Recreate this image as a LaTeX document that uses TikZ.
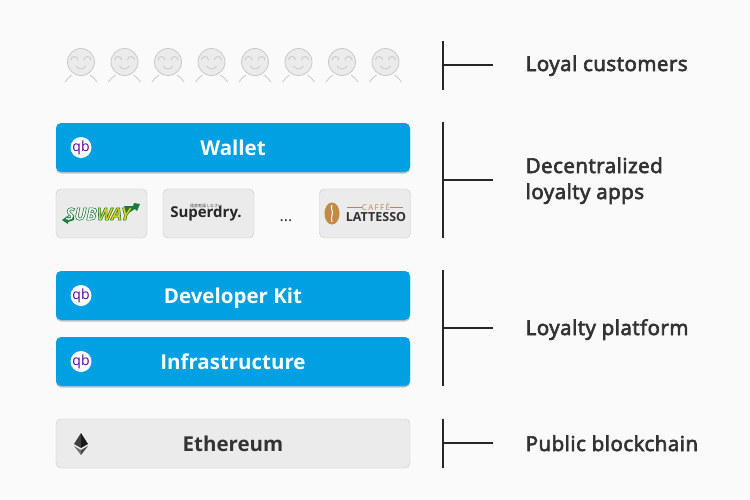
\documentclass[tikz,border=0pt]{standalone}
\usepackage{fontspec}
\setmainfont{Open Sans}
\newfontfamily\semibold[FakeBold=3.2,LetterSpace=2.5]{Open Sans}
\newfontfamily\cjk{Noto Sans CJK JP}
\usetikzlibrary{shadows}
\definecolor{pagegray}{HTML}{FAFAFA}
\definecolor{qbblue}{HTML}{00A0E3}
\definecolor{boxgray}{HTML}{EBEBEB}
\definecolor{boxline}{HTML}{C8C8C8}
\definecolor{facegray}{HTML}{C8C8C8}
\definecolor{inkgray}{HTML}{333333}
\definecolor{subgreen}{HTML}{1E7A3C}
\definecolor{subyellow}{HTML}{F2D21B}
\definecolor{cafebrown}{HTML}{C08B45}
\def\boxw{354pt}
\def\boxh{49pt}
\def\outlined{\special{pdf:code 2 Tr 0.6 w 0.12 0.48 0.24 RG}}
\def\plainfill{\special{pdf:code 0 Tr 0 w}}

\begin{document}
\begin{tikzpicture}[x=1pt,y=-1pt]
    \tikzstyle{bluebox}=[rectangle,rounded corners=5pt,fill=qbblue,text=white,minimum width=\boxw,minimum height=\boxh,inner sep=0pt,text height=15pt,text depth=0pt,font=\fontsize{20.5}{24}\selectfont\bfseries,drop shadow={shadow xshift=0pt,shadow yshift=-1.5pt,opacity=0.22,fill=black}]
    \tikzstyle{graybox}=[rectangle,rounded corners=5pt,draw=boxline,fill=boxgray,text=inkgray,minimum width=\boxw,minimum height=\boxh,inner sep=0pt,text height=15pt,text depth=0pt,font=\fontsize{20.5}{24}\selectfont\bfseries]
    \tikzstyle{logobox}=[graybox,minimum width=91pt]
    \tikzstyle{qblogo}=[circle,fill=white,minimum size=21pt,inner sep=0pt,text height=7.5pt,text depth=0pt,text=violet!70!blue,font=\fontsize{14}{14}\selectfont]
    \tikzstyle{sidelabel}=[anchor=base west,align=left,text=inkgray,inner sep=0pt,font=\fontsize{20.5}{26}\semibold]
    \tikzstyle{bracket}=[draw=black!85,line width=1.1pt]
    \tikzset{customer/.pic={
        \draw[facegray,fill=boxgray,line width=0.8pt] (0,0) circle (13.5);
        \draw[facegray,line width=0.8pt] (-10,-2) arc (180:360:3.5);
        \draw[facegray,line width=0.8pt] (3,-2) arc (180:360:3.5);
        \draw[facegray,line width=0.8pt] (-5,4) .. controls (-2,8) and (2,8) .. (5,4);
        \draw[facegray,line width=0.8pt] (-9,13) .. controls (-12,15) and (-14,17) .. (-16,20);
        \draw[facegray,line width=0.8pt] (9,13) .. controls (12,15) and (14,17) .. (16,20);
    }}

    \useasboundingbox[fill=pagegray] (0,0) rectangle (750,499);

    % Draw the customers
    \foreach \i in {0,...,7}
        \pic at ({81+43.5*\i},62) {customer};

    % Draw the blue boxes with their logos
    \node[bluebox] (wallet) at (233,147.5) {Wallet};
    \node[bluebox] (kit) at (233,295.5) {Developer Kit};
    \node[bluebox] (infra) at (233,361.5) {Infrastructure};
    \foreach \name in {wallet,kit,infra}
        \node[qblogo] (qb-\name) at ([xshift=-152pt]\name.center) {qb};

    % Draw the app logos
    \node[logobox] (subway) at (101.5,213.5) {};
    \node[logobox] (superdry) at (208.5,213.5) {};
    \node[logobox] (lattesso) at (365,213.5) {};
    \fill[subgreen] (74,215) -- (68,218) -- (69,215) -- (62,220) -- (68,224) -- (68,222) -- (74,220) -- cycle;
    \fill[subgreen] (124,206) -- (133,206) -- (134,203) -- (140,204) -- (137,211) -- (135,209) -- (127,214) -- cycle;
    \node[font=\fontsize{17}{17}\selectfont\bfseries\itshape,inner sep=0pt] (subway-text) at (98,214) {\textcolor{white}{\outlined SUB}\textcolor{subyellow}{\outlined WAY\plainfill}};
    \node[text=black!85,font=\fontsize{15}{15}\selectfont\bfseries,inner sep=0pt] (superdry-text) at (206,214) {Superdry.};
    \node[text=black!70,font=\fontsize{4}{4}\cjk,inner sep=0pt] (superdry-small) at (206,206) {極度乾燥しなさい};
    \fill[cafebrown] (332,213.5) ellipse (7.5 and 11);
    \draw[white,line width=1pt] (332,205) .. controls (330,209) and (334,212) .. (332,215) .. controls (331,217) and (332,220) .. (332,222);
    \node[text=cafebrown!80!gray,font=\fontsize{8}{8}\selectfont,inner sep=0pt] (caffe-text) at (376,207) {C\,A\,F\,F\,È};
    \draw[cafebrown!80!gray,line width=0.4pt] (347,207) -- (caffe-text.west);
    \draw[cafebrown!80!gray,line width=0.4pt] (caffe-text.east) -- (403,207);
    \node[text=inkgray,font=\fontsize{12.5}{13}\selectfont\bfseries,inner sep=0pt] (lattesso-text) at (376,217) {LATTESSO};
    \node[text=inkgray,font=\fontsize{16}{16}\selectfont,inner sep=0pt] (dots) at (286,221) {...};

    % Draw the Ethereum box
    \node[graybox] (eth) at (233,443.5) {Ethereum};
    \fill[black!75] (81,433) -- (74,444) -- (81,448) -- cycle;
    \fill[black!90] (81,433) -- (88,444) -- (81,448) -- cycle;
    \fill[black!55] (81,450) -- (74,446) -- (81,455) -- cycle;
    \fill[black!70] (81,450) -- (88,446) -- (81,455) -- cycle;

    % Annotate the layers
    \node[sidelabel] (customers) at (525.5,71) {Loyal customers};
    \node[sidelabel] (apps) at (525.5,199) {Decentralized\\loyalty apps};
    \node[sidelabel] (platform) at (525.5,335) {Loyalty platform};
    \node[sidelabel] (chain) at (525.5,451) {Public blockchain};

    \foreach \name / \ytop / \ymid / \ybot in {customers/41/65/90,apps/122/180/238,platform/270/328/386,chain/419/443/468} {
        \coordinate (\name-top) at (443,\ytop);
        \coordinate (\name-mid) at (443,\ymid);
        \coordinate (\name-bot) at (443,\ybot);
        \coordinate (\name-end) at (493,\ymid);
        \draw[bracket] (\name-top) -- (\name-bot);
        \draw[bracket] (\name-mid) -- (\name-end);
    }
\end{tikzpicture}
\end{document}
